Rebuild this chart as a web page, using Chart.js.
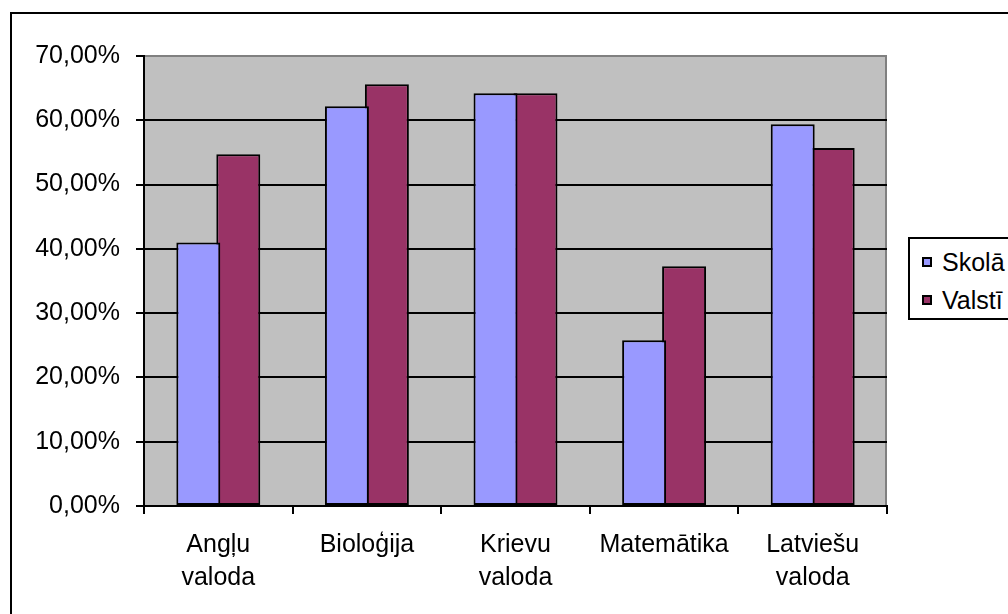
<!DOCTYPE html>
<html>
<head>
<meta charset="utf-8">
<script src="https://cdn.jsdelivr.net/npm/chart.js@4.4.1/dist/chart.umd.min.js"></script>
<style>
  html, body { margin: 0; padding: 0; background: #fff; overflow: hidden; }
  body { font-family: "Liberation Sans", Arial, sans-serif; }
  #clip { position: relative; width: 1008px; height: 614px; overflow: hidden; }
  #frame { position: absolute; left: 10px; top: 12px; width: 1100px; height: 650px; border: 2px solid #000; background: #fff; }
  #chartWrap { position: absolute; left: 0; top: 0; width: 880px; height: 590px; }
  #legend { position: absolute; left: 896px; top: 223px; width: 200px; height: 83px; box-sizing: border-box;
            border: 2px solid #000; background: #fff; font-size: 25px; color: #000; }
  .legend-item { position: absolute; left: 12px; height: 30px; display: flex; align-items: center; white-space: nowrap; }
  .legend-dot { width: 10px; height: 10px; box-sizing: border-box; border: 2px solid #000; margin-right: 10px; }
</style>
</head>
<body>
<div id="clip">
  <div id="frame">
    <div id="chartWrap"><canvas id="barChart"></canvas></div>
    <div id="legend"></div>
  </div>
</div>
<script>
// --- Data ---
const categories = [["Angļu", "valoda"], "Bioloģija", ["Krievu", "valoda"], "Matemātika", ["Latviešu", "valoda"]];
const seriesNames = ["Skolā", "Valstī"];
const schoolValues = [41.0, 62.2, 64.2, 25.8, 59.4];
const stateValues = [54.7, 65.6, 64.2, 37.3, 55.7];
const yTickValues = [0, 10, 20, 30, 40, 50, 60, 70];

// Excel 2003 palette
const SERIES_COLORS = ["#9999FF", "#993366"];
const PLOT_BG = "#C0C0C0";

const $ = (id) => document.getElementById(id);

function pct(v) {
  return v.toFixed(2).replace(".", ",") + "%";
}

// --- Legend (html, like the Excel box) ---
function renderLegend() {
  const wrap = $("legend");
  seriesNames.forEach((name, i) => {
    const row = document.createElement("div");
    row.className = "legend-item";
    row.style.top = (8 + i * 38) + "px";

    const dot = document.createElement("div");
    dot.className = "legend-dot";
    dot.style.background = SERIES_COLORS[i];

    const label = document.createElement("span");
    label.textContent = name;

    row.appendChild(dot);
    row.appendChild(label);
    wrap.appendChild(row);
  });
}

// gray plot area with a gray top/right edge
const plotBackground = {
  id: "plotBackground",
  beforeDraw(chart) {
    const { ctx, chartArea: a } = chart;
    ctx.save();
    ctx.fillStyle = PLOT_BG;
    ctx.fillRect(a.left, a.top, a.right - a.left, a.bottom - a.top);
    ctx.strokeStyle = "#808080";
    ctx.lineWidth = 2;
    ctx.beginPath();
    ctx.moveTo(a.left, a.top);
    ctx.lineTo(a.right - 1, a.top);
    ctx.lineTo(a.right - 1, a.bottom);
    ctx.stroke();
    ctx.restore();
  }
};

const font = { family: '"Liberation Sans", Arial, sans-serif', size: 25 };

function buildChart() {
  return new Chart($("barChart"), {
    type: "bar",
    data: {
      labels: categories,
      datasets: [schoolValues, stateValues].map((data, i) => ({
        label: seriesNames[i],
        data,
        backgroundColor: SERIES_COLORS[i],
        borderColor: "#000",
        borderWidth: 2,
        borderSkipped: false,
        categoryPercentage: 0.538,
        barPercentage: 1.1   // bars overlap so neighbours share one border
      }))
    },
    options: {
      responsive: true,
      maintainAspectRatio: false,
      animation: false,
      devicePixelRatio: 1,
      layout: { padding: { left: 0, top: 42, right: 5, bottom: 0 } },
      scales: {
        x: {
          afterFit: (s) => { s.height = 98; },
          grid: { drawOnChartArea: false, tickLength: 8, tickColor: "#000", lineWidth: 2, offset: true },
          border: { color: "#000", width: 2 },
          ticks: { color: "#000", font: { ...font, lineHeight: 1.32 }, padding: 15, maxRotation: 0, autoSkip: false }
        },
        y: {
          min: 0,
          max: 70,
          afterFit: (s) => { s.width = 132; },
          afterBuildTicks: (s) => { s.ticks = yTickValues.map((v) => ({ value: v })); },
          grid: {
            color: (c) => (c.tick && c.tick.value === 70 ? "rgba(0,0,0,0)" : "#000"),
            tickColor: "#000",
            lineWidth: 2,
            tickLength: 8
          },
          border: { color: "#000", width: 2 },
          ticks: { color: "#000", font, padding: 16, callback: (v) => pct(v) }
        }
      },
      plugins: {
        legend: { display: false },
        tooltip: { enabled: false }
      }
    },
    plugins: [plotBackground]
  });
}

// --- Init ---
renderLegend();
buildChart();
</script>
</body>
</html>
